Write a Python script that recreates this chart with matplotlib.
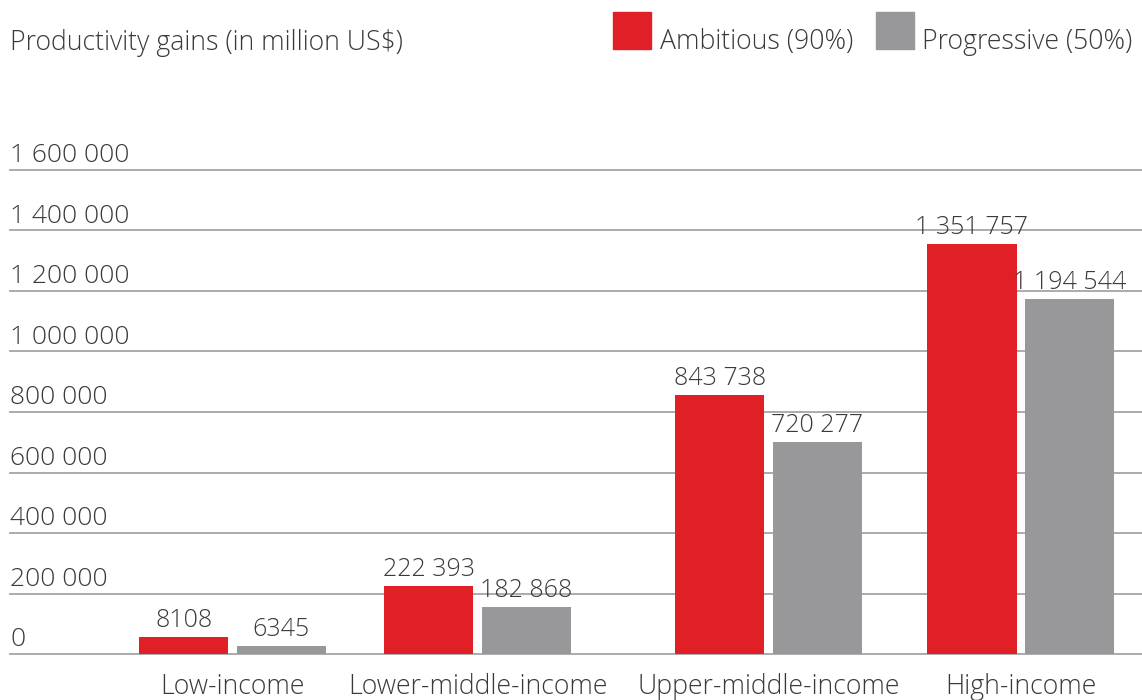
import matplotlib
matplotlib.use("Agg")
import matplotlib.pyplot as plt
from matplotlib.patches import Rectangle
import numpy as np

# data
categories = ["Low-income", "Lower-middle-income", "Upper-middle-income", "High-income"]
ambitious_labels = ["8108", "222 393", "843 738", "1 351 757"]
progressive_labels = ["6345", "182 868", "720 277", "1 194 544"]
# bar heights as drawn in the picture (not exactly to the labels)
ambitious_bars = [56000, 225000, 856000, 1355000]
progressive_bars = [26000, 155000, 701000, 1174000]
yticks = [0, 200000, 400000, 600000, 800000, 1000000, 1200000, 1400000, 1600000]

# group centres are not evenly spaced in the original layout
group_x = np.array([0, 0.932, 2.04, 3.0])

red = "#e01f26"
grey = "#98989a"
txt = "#3a3a3a"
plt.rcParams["font.family"] = ["Open Sans", "DejaVu Sans"]
plt.rcParams["font.weight"] = "light"

fig = plt.figure(figsize=(11.42, 7.0), dpi=100)
ax = fig.add_axes([10 / 1142, 46 / 700, 1 - 10 / 1142, 484 / 700])

bw = 0.339
off = 0.186
ax.bar(group_x - off, ambitious_bars, width=bw, color=red, zorder=3)
ax.bar(group_x + off, progressive_bars, width=bw, color=grey, zorder=3)

for xi, h, lab in zip(group_x - off, ambitious_bars, ambitious_labels):
    ax.annotate(lab, (xi, h), xytext=(0, 7), textcoords="offset points",
                ha="center", va="baseline", fontsize=18, color=txt)
for xi, h, lab in zip(group_x + off, progressive_bars, progressive_labels):
    ax.annotate(lab, (xi, h), xytext=(0, 7), textcoords="offset points",
                ha="center", va="baseline", fontsize=18, color=txt)

# gridlines with labels sitting on top of them
for t in yticks:
    ax.axhline(t, color="#a5a5a5", lw=1.3, zorder=1, clip_on=False)
    ax.annotate("{:,}".format(t).replace(",", " "), (0, t), xycoords=ax.get_yaxis_transform(),
                xytext=(0, 5.5), textcoords="offset points", ha="left", va="baseline",
                fontsize=19, color=txt)

ax.set_xlim(-0.847, 3.461)
ax.set_ylim(0, 1600000)
ax.set_xticks(group_x)
ax.set_xticklabels(categories, fontsize=19.2, color=txt)
ax.tick_params(axis="x", length=0, pad=14)
ax.set_yticks([])
for s in ax.spines.values():
    s.set_visible(False)

fig.text(10 / 1142, 1 - 50 / 700, "Productivity gains (in million US$)", ha="left",
         va="baseline", fontsize=19.2, color=txt)

# legend drawn by hand: squares with text sitting on their bottom edge
fig.patches.append(Rectangle((613 / 1142, 1 - 49 / 700), 38 / 1142, 37 / 700,
                             transform=fig.transFigure, color=red))
fig.text(660 / 1142, 1 - 49 / 700, "Ambitious (90%)", ha="left", va="baseline",
         fontsize=19.2, color=txt)
fig.patches.append(Rectangle((876 / 1142, 1 - 49 / 700), 38 / 1142, 37 / 700,
                             transform=fig.transFigure, color=grey))
fig.text(922 / 1142, 1 - 49 / 700, "Progressive (50%)", ha="left", va="baseline",
         fontsize=19.2, color=txt)

plt.savefig("out.png", dpi=100)
plt.close()
